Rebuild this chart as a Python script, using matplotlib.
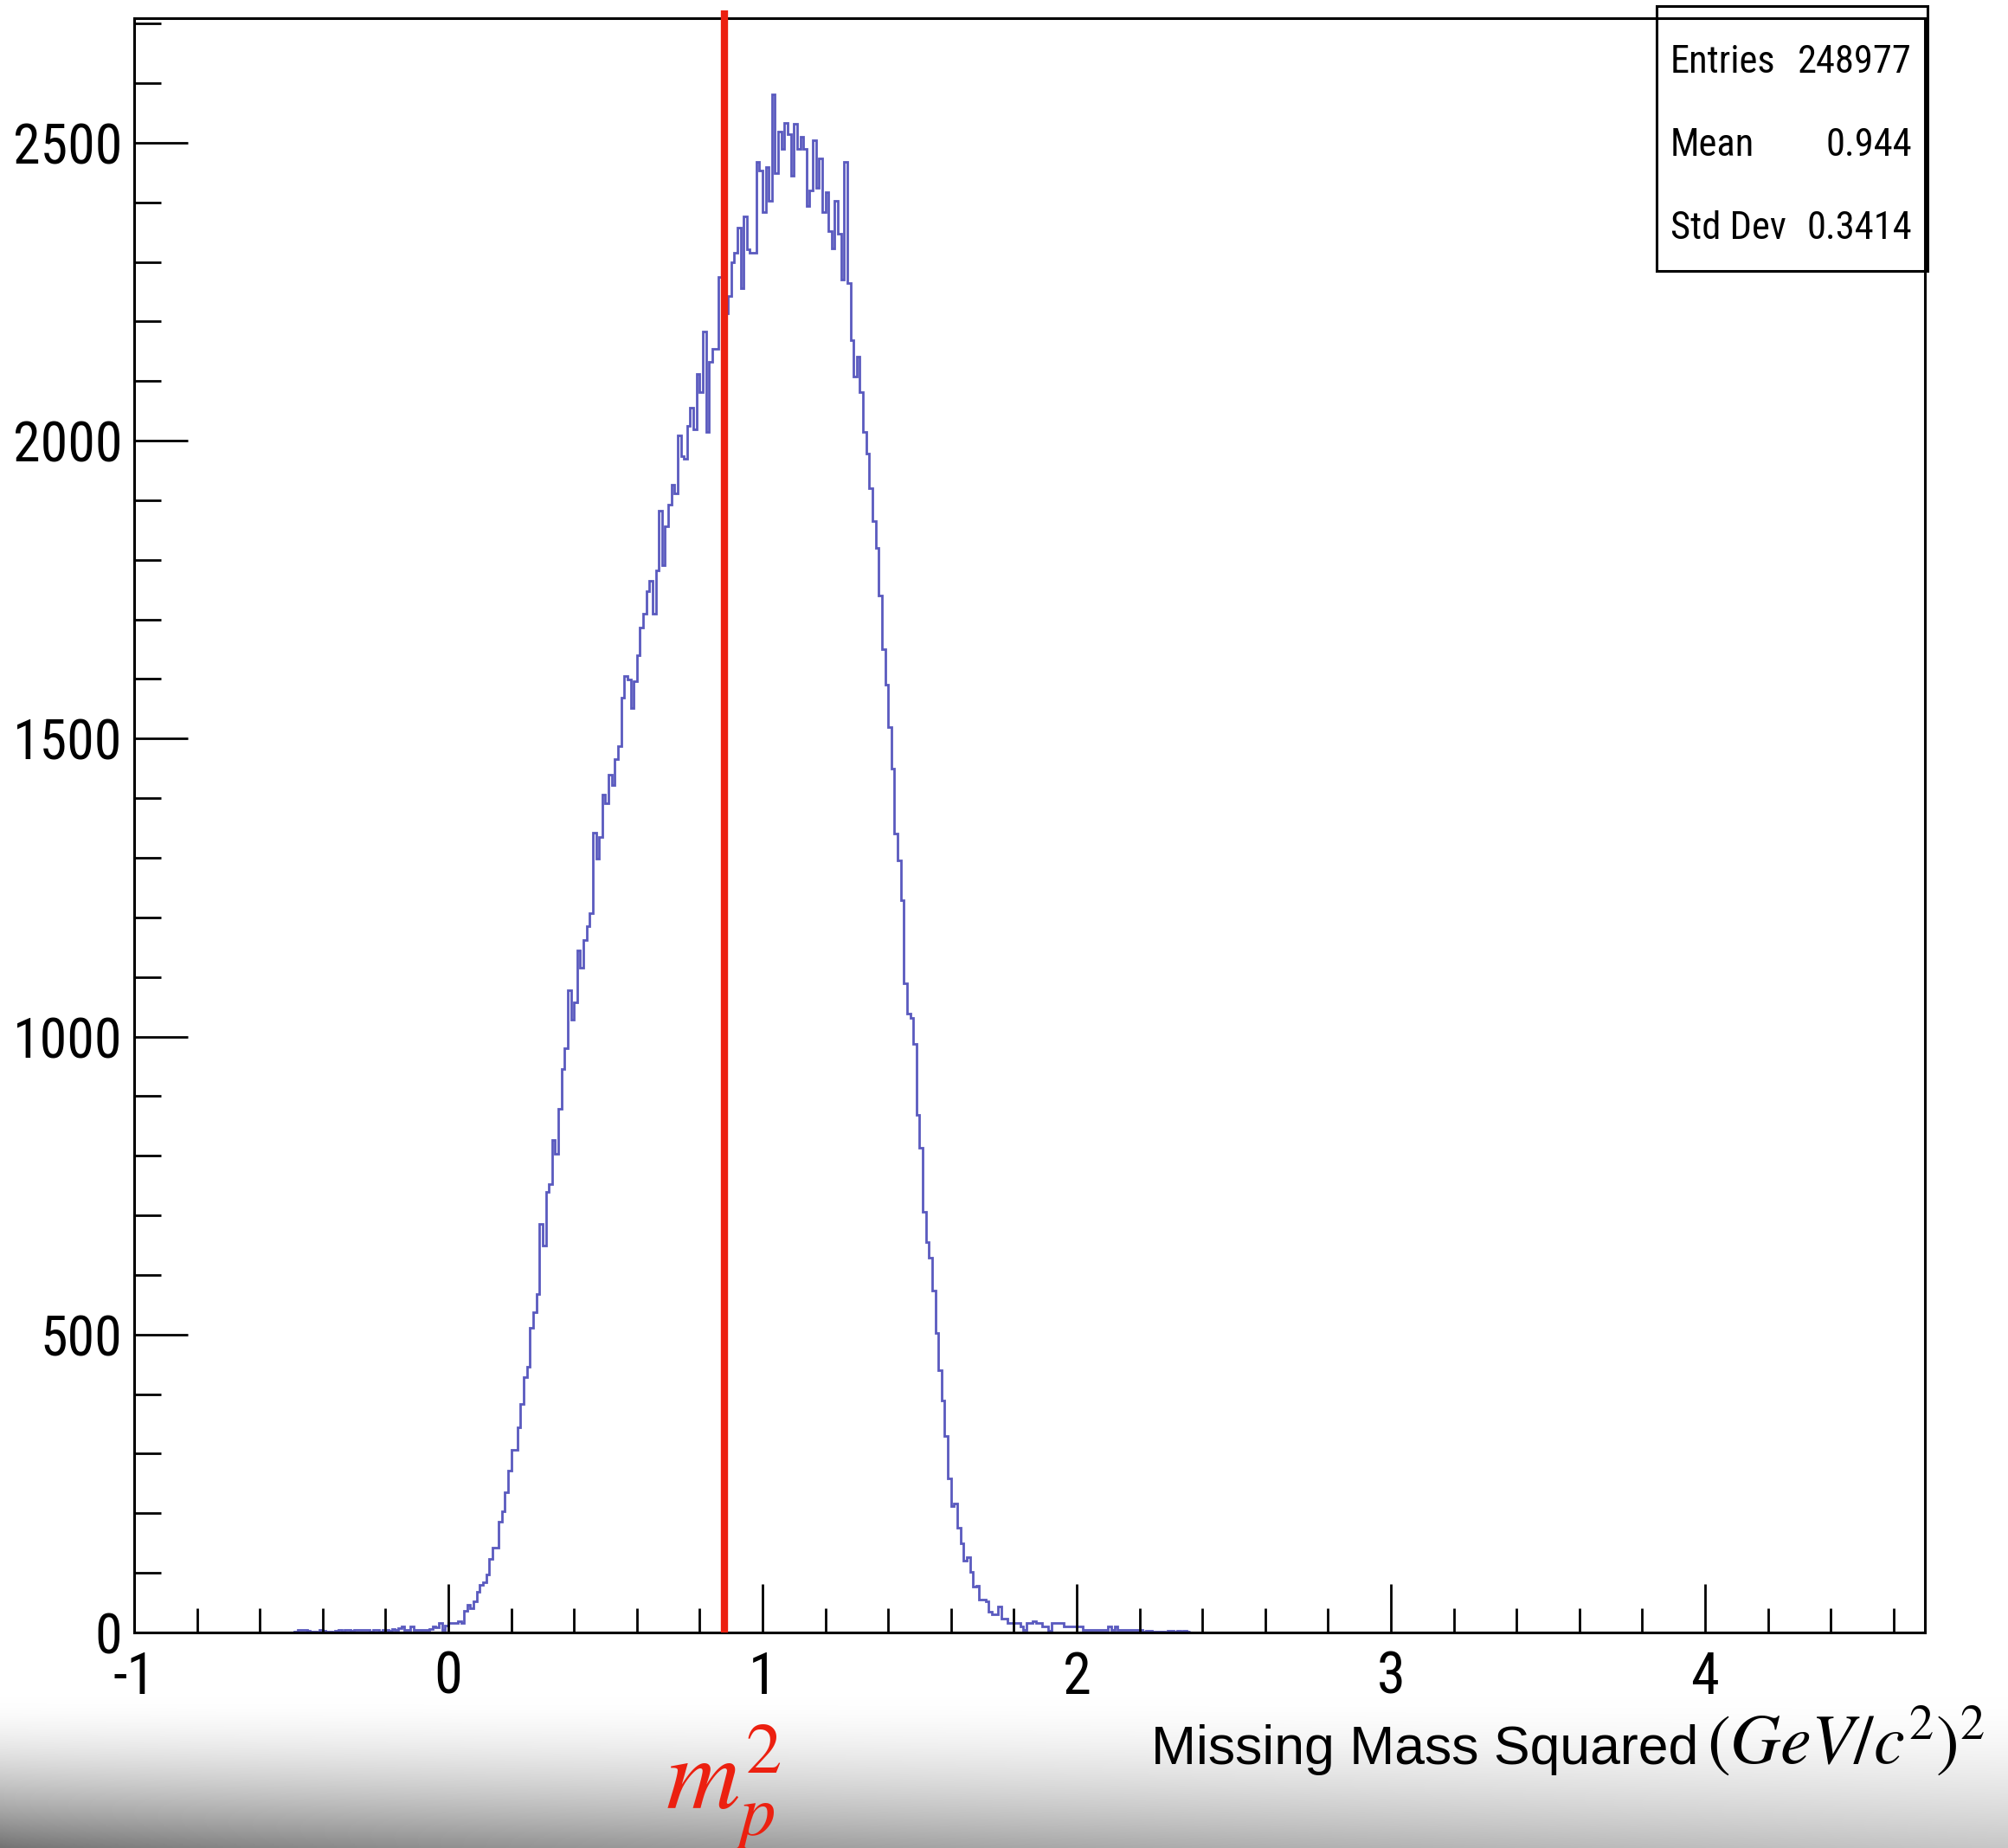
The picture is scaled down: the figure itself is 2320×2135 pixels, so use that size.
import numpy as np
import matplotlib
matplotlib.use("Agg")
import matplotlib.pyplot as plt
from matplotlib.patches import Rectangle
from matplotlib.ticker import MultipleLocator

# ---------------- data ----------------
BIN_START = -0.50
BIN_WIDTH = 0.01
counts_negative = [0,
    2, 4, 4, 4, 3, 1, 2, 0, 4, 3,
    2, 1, 0, 3, 4, 2, 4, 4, 3, 4,
    5, 4, 5, 4, 2, 4, 5, 1, 4, 5,
    3, 6, 4, 7, 10, 5, 5, 10, 5, 5,
    5, 5, 5, 6, 10, 8, 16, 5, 12]
counts_positive = [
    16, 16, 16, 19, 16, 36, 46, 41, 53, 68,                      # 0.0x
    80, 84, 97, 123, 143, 143, 186, 203, 236, 271,               # 0.1x
    306, 306, 344, 383, 428, 446, 511, 538, 568, 686,            # 0.2x
    649, 740, 752, 827, 803, 879, 945, 981, 1078, 1029,          # 0.3x
    1058, 1144, 1115, 1162, 1186, 1207, 1342, 1299, 1335, 1406,  # 0.4x
    1392, 1440, 1422, 1466, 1487, 1569, 1605, 1599, 1551, 1597,  # 0.5x
    1640, 1686, 1709, 1747, 1765, 1709, 1783, 1882, 1791, 1857,  # 0.6x
    1892, 1926, 1912, 2009, 1974, 1969, 2025, 2055, 2019, 2112,  # 0.7x
    2082, 2183, 2014, 2132, 2154, 2154, 2275, 2250, 2214, 2243,  # 0.8x
    2300, 2315, 2357, 2256, 2376, 2321, 2315, 2315, 2468, 2454,  # 0.9x
    2384, 2459, 2403, 2581, 2449, 2519, 2490, 2533, 2514, 2445,  # 1.0x
    2532, 2490, 2510, 2490, 2394, 2420, 2504, 2425, 2474, 2384,  # 1.1x
    2417, 2352, 2323, 2403, 2347, 2270, 2468, 2265, 2169, 2108,  # 1.2x
    2141, 2082, 2014, 1978, 1920, 1865, 1820, 1740, 1650, 1590,  # 1.3x
    1520, 1450, 1340, 1295, 1229, 1089, 1039, 1031, 988, 869,    # 1.4x
    814, 706, 655, 629, 574, 503, 440, 389, 330, 258,            # 1.5x
    212, 216, 176, 150, 120, 127, 101, 77, 79, 55,               # 1.6x
    55, 52, 35, 30, 30, 43, 23, 23, 16, 16,                      # 1.7x
    16, 16, 10, 5, 16, 16, 19, 16, 16, 10,                       # 1.8x
    10, 3, 16, 16, 16, 16, 10, 10, 10, 10,                       # 1.9x
    10, 10, 5, 5, 5, 5, 5, 5, 5, 5,                              # 2.0x
    10, 5, 10, 5, 5, 5, 5, 5, 5, 5,                              # 2.1x
    5, 2, 3, 3, 1, 2, 2, 1, 0, 3,                                # 2.2x
    3, 1, 3, 1, 3, 2]                                            # 2.3x
counts = counts_negative + counts_positive

X_RANGE = (-1.0, 4.7)
Y_MAX = 2709
PROTON_MASS = 0.938          # GeV/c^2
x_major_ticks = [-1, 0, 1, 2, 3, 4]
y_major_ticks = [0, 500, 1000, 1500, 2000, 2500]
stats_labels = ["Entries", "Mean", "Std Dev"]
stats_values = ["248977", "0.944", "0.3414"]
x_title_text = "Missing Mass Squared"
x_title_unit = r"$(GeV/c^2)^2$"
line_label = r"$m_p^2$"

# ---------------- style ----------------
HIST_COLOR = "#5a5abf"
RED = "#ec2010"
ROOT_FONT = ["Roboto Condensed", "Liberation Sans", "DejaVu Sans"]
plt.rcParams["font.family"] = ROOT_FONT
plt.rcParams["axes.unicode_minus"] = False

W, H = 2320, 2135
fig = plt.figure(figsize=(W / 100, H / 100), dpi=100)
fig.patch.set_facecolor("white")

def fx(px):
    return px / W

def fy(py):
    return 1 - py / H

# bottom grey shading band
band_top = 1960
gax = fig.add_axes([0, 0, 1, fy(band_top)])
gax.axis("off")
ny, nx = 240, 480
t = np.linspace(0, 1, ny)[:, None]
u = np.linspace(0, 1, nx)[None, :]
bottom_grey = 0.45 + 0.33 * u ** 0.7
g = 1 - (1 - bottom_grey) * t ** 1.6
gax.imshow(np.dstack([g, g, g]), aspect="auto", extent=[0, 1, 0, 1],
           origin="upper", interpolation="bilinear")
gax.set_xlim(0, 1)
gax.set_ylim(0, 1)

# main axes
ax = fig.add_axes([fx(155), fy(1886), fx(2224) - fx(155), fy(21) - fy(1886)])
ax.set_facecolor("white")
edges = BIN_START + BIN_WIDTH * np.arange(len(counts) + 1)
ax.stairs(counts, edges, color=HIST_COLOR, lw=2.0, baseline=None)
ax.set_xlim(*X_RANGE)
ax.set_ylim(0, Y_MAX)

ax.axvline(PROTON_MASS ** 2, ymin=0, ymax=1.005, color=RED, lw=6,
           clip_on=False, solid_capstyle="butt", zorder=5)

for s in ax.spines.values():
    s.set_linewidth(2.2)
ax.set_xticks(x_major_ticks)
ax.set_yticks(y_major_ticks)
ax.xaxis.set_minor_locator(MultipleLocator(0.2))
ax.yaxis.set_minor_locator(MultipleLocator(100))
ax.tick_params(axis="x", which="major", direction="in", length=40, width=2,
               pad=15, labelsize=48, top=False)
ax.tick_params(axis="x", which="minor", direction="in", length=20, width=2, top=False)
ax.tick_params(axis="y", which="major", direction="in", length=44.6, width=2,
               pad=10, labelsize=46, right=False)
ax.tick_params(axis="y", which="minor", direction="in", length=22.3, width=2, right=False)

# stats box
fig.add_artist(Rectangle((fx(1914), fy(313)), fx(2227) - fx(1914), fy(7) - fy(313),
                         transform=fig.transFigure, fill=False, lw=2.2, ec="black"))
rows_y = [72, 168, 264]
for lab, val, yy in zip(stats_labels, stats_values, rows_y):
    fig.text(fx(1930), fy(yy), lab, ha="left", va="center", fontsize=32)
    fig.text(fx(2209), fy(yy), val, ha="right", va="center", fontsize=32)

# x title
fig.text(fx(1962), fy(2038), x_title_text, ha="right", va="baseline", fontsize=45,
         family=["Liberation Sans", "DejaVu Sans"])
fig.text(fx(1972), fy(2038), x_title_unit, ha="left", va="baseline", fontsize=58,
         math_fontfamily="stix")

# m_p^2 label
fig.text(fx(836), fy(2090), line_label, ha="center", va="baseline", fontsize=85,
         color=RED, math_fontfamily="stix")

fig.savefig("out.png", dpi=100)
